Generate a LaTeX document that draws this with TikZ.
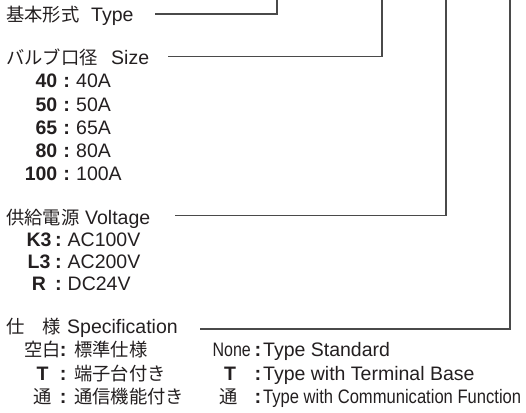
\documentclass[tikz,border=0pt]{standalone}
\usepackage{fontspec}
\setmainfont{Liberation Sans}
\newfontfamily\jp{Noto Sans CJK JP}
\definecolor{ink}{HTML}{231F20}
\definecolor{wire}{HTML}{4A4A4A}
\begin{document}
\begin{tikzpicture}[x=1pt,y=-1pt,
  lat/.style={anchor=base west,inner sep=0pt,text=ink,font=\fontsize{19.5}{20}\selectfont},
  latb/.style={lat,font=\fontsize{19.5}{20}\selectfont\bfseries},
  jpt/.style={anchor=base west,inner sep=0pt,text=ink,font=\jp\fontsize{18.3}{20}\selectfont},
  jpc/.style={anchor=base,inner sep=0pt,text=ink,font=\jp\fontsize{18.3}{20}\selectfont},
  col/.style={anchor=base,inner sep=0pt,text=ink,font=\fontsize{20}{20}\selectfont\bfseries},
  wirestyle/.style={draw=wire,line width=1.3pt}]
\useasboundingbox (0,0) rectangle (526,412);
% --- Type
\node[jpt] (typej) at (6,21.5) {基本形式};
\node[lat] (type) at (91,21.5) {Type};
% --- Size
\node[jpt] (sizej) at (6,64) {バルブ口径};
\node[lat] (size) at (111,64) {Size};
\foreach \n/\v/\y in {40/40A/87.5,50/50A/111,65/65A/134,80/80A/157,100/100A/180.5}{
  \node[latb,anchor=base east] (sk\n) at (57.5,\y) {\n};
  \node[col] (sc\n) at (66.7,\y) {:};
  \node[lat] (sv\n) at (76,\y) {\v};
}
% --- Voltage
\node[jpt] (voltj) at (6,224) {供給電源};
\node[lat] (volt) at (85,224) {Voltage};
\foreach \k/\v/\y/\nm in {K3/AC100V/246/a,L3/AC200V/268.5/b,R/DC24V/290.5/c}{
  \node[latb,anchor=base] (vk\nm) at (39,\y) {\k};
  \node[col] (vc\nm) at (58.5,\y) {:};
  \node[lat] (vv\nm) at (67.5,\y) {\v};
}
% --- Specification
\node[jpt] (spj1) at (6,333) {仕};
\node[jpt] (spj2) at (42,333) {様};
\node[lat] (spec) at (67,333) {Specification};
\node[jpc] (s1k) at (42.5,356.5) {空白};
\node[col] (s1c) at (63.3,356.5) {:};
\node[jpt] (s1v) at (74,356.5) {標準仕様};
\node[latb,anchor=base] (s2k) at (42.5,380) {T};
\node[col] (s2c) at (63.3,380) {:};
\node[jpt] (s2v) at (74,380) {端子台付き};
\node[jpc] (s3k) at (42.5,403) {通};
\node[col] (s3c) at (63.3,403) {:};
\node[jpt] (s3v) at (74,403) {通信機能付き};
\node[lat,anchor=base east] (e1k) at (251,356.5) {\scalebox{0.82}[1]{None}};
\node[col] (e1c) at (258,356.5) {:};
\node[lat] (e1v) at (263,356.5) {Type Standard};
\node[latb,anchor=base] (e2k) at (230,380) {T};
\node[col] (e2c) at (258,380) {:};
\node[lat] (e2v) at (263,380) {Type with Terminal Base};
\node[jpc] (e3k) at (229,403) {通};
\node[col] (e3c) at (258,403) {:};
\node[lat] (e3v) at (263,403) {\scalebox{0.85}[1]{Type with Communication Function}};
% --- connectors
\coordinate (ta) at (155,14);   \coordinate (tb) at (277,14);  \coordinate (tc) at (277,0);
\coordinate (sa) at (168,56.5); \coordinate (sb) at (382,56.5);\coordinate (sc) at (382,0);
\coordinate (va) at (175,215.5);\coordinate (vb) at (446,215.5);\coordinate (vc) at (446,0);
\coordinate (pa) at (200,329);  \coordinate (pb) at (510,329); \coordinate (pc) at (510,0);
\draw[wirestyle] (ta) -- (tb) -- (tc);
\draw[wirestyle] (sa) -- (sb) -- (sc);
\draw[wirestyle] (va) -- (vb) -- (vc);
\draw[wirestyle] (pa) -- (pb) -- (pc);
\end{tikzpicture}
\end{document}
